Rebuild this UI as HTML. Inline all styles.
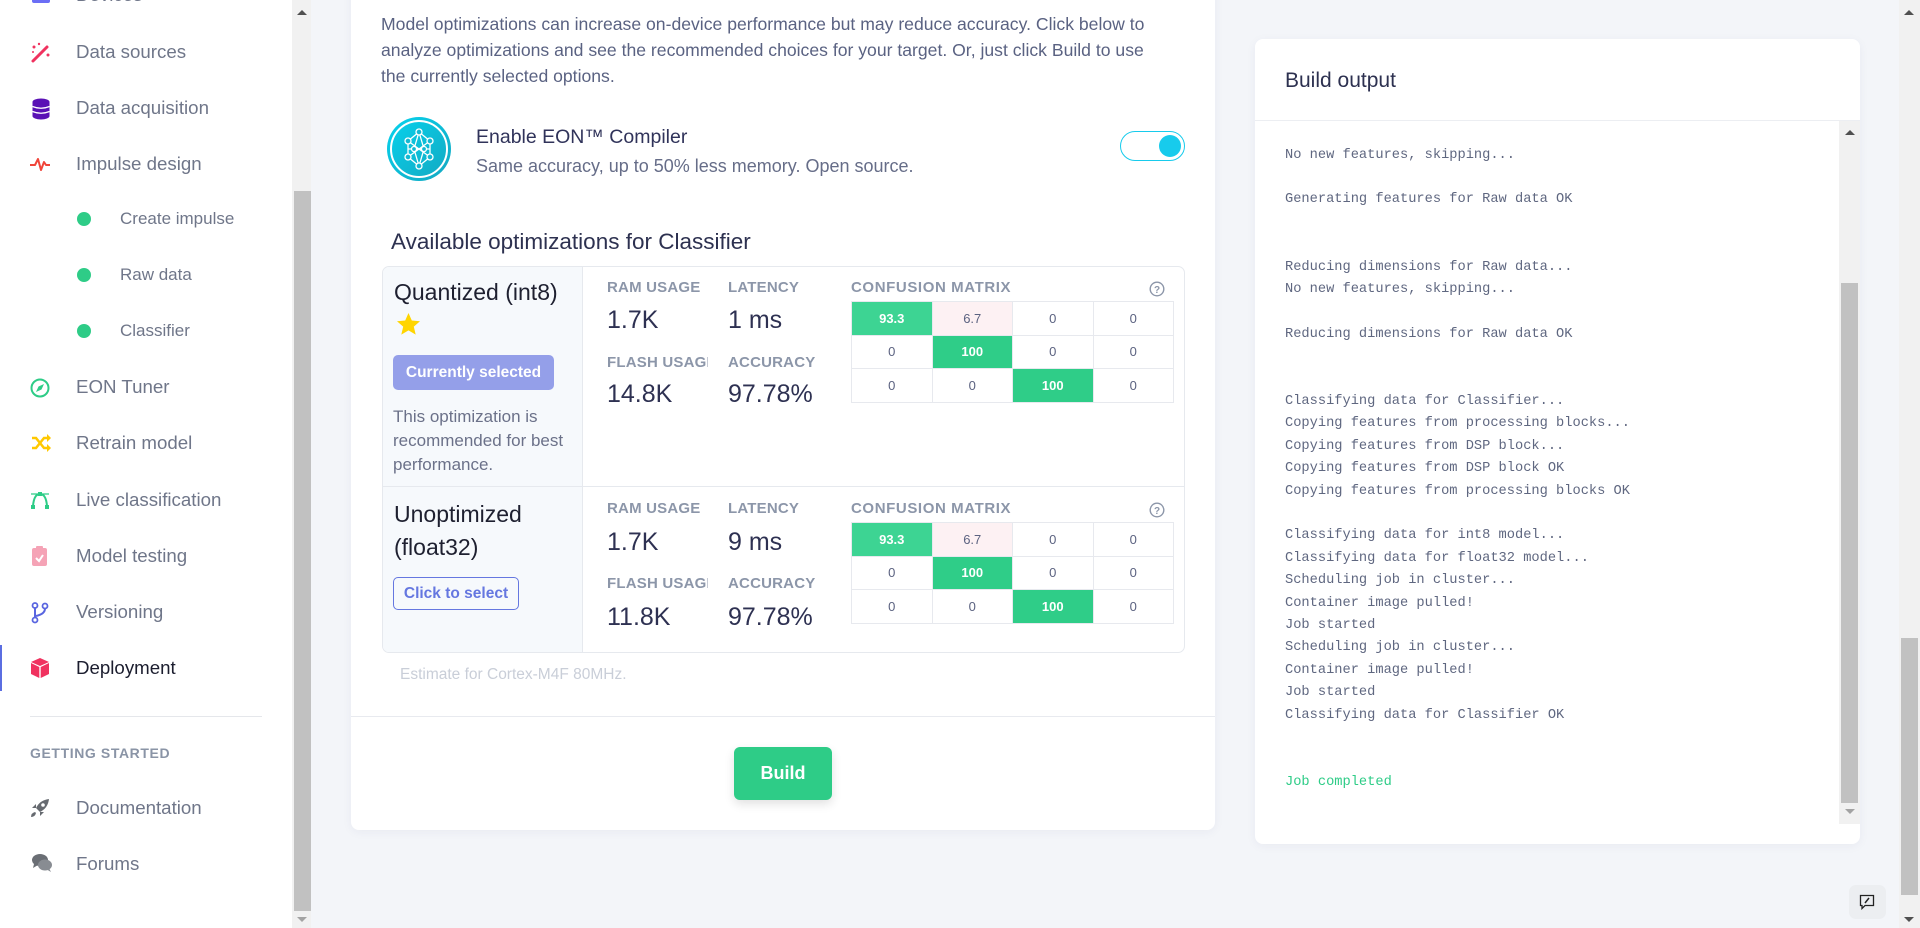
<!DOCTYPE html>
<html><head><meta charset="utf-8">
<style>
*{margin:0;padding:0;box-sizing:border-box}
html,body{width:1920px;height:928px;overflow:hidden}
body{position:relative;background:#f3f5f9;font-family:"Liberation Sans",sans-serif}
.a{position:absolute}
.t{position:absolute;white-space:nowrap}
.side{left:0;top:0;width:292px;height:928px;background:#fff}
.nav{font-size:18.7px;color:#6f7689;line-height:24px;left:76px}
.sub{font-size:17px;color:#6f7689;line-height:24px;left:120px}
.dot{position:absolute;left:77px;width:14px;height:14px;border-radius:50%;background:#2ecc87}
.lbl{font-size:15px;font-weight:bold;color:#8c96a9;line-height:18px;letter-spacing:0.2px}
.val{font-size:25px;color:#2e3152;line-height:30px}
.mx{position:absolute;border-collapse:collapse;font-size:13px;color:#5b6280}
.mx td{width:80.5px;height:33.6px;border:1px solid #e7e9ee;text-align:center;padding:0}
.g{background:#2fcd88;color:#fff;font-weight:bold}
.g2{background:#3dd493;color:#fff;font-weight:bold}
.p{background:#fdf1f3}
.log{font-family:"Liberation Mono","DejaVu Sans Mono",monospace;font-size:13.7px;color:#5f6780;line-height:22.4px;white-space:pre}
</style></head><body>

<!-- sidebar -->
<div class="a side"></div>
<div class="a" style="left:292px;top:0;width:19px;height:928px;background:#f1f1f1"></div>
<div class="a" style="left:294px;top:191px;width:17px;height:720px;background:#c1c1c1"></div>
<svg class="a" style="left:296px;top:8px" width="12" height="8"><polygon points="1,7 6,2 11,7" fill="#505050"/></svg>
<svg class="a" style="left:296px;top:916px" width="12" height="8"><polygon points="1,1 6,6 11,1" fill="#a3a3a3"/></svg>

<div class="a" style="left:32px;top:-8px;width:18px;height:11px;background:#6b6ef5;border-radius:2px"></div>
<div class="t nav" style="top:-17px">Devices</div>

<svg class="a" style="left:30px;top:42px" width="22" height="22"><line x1="3" y1="19" x2="17" y2="5" stroke="#f0325f" stroke-width="3" stroke-linecap="round"/><circle cx="4" cy="5" r="1.5" fill="#f0325f"/><circle cx="9" cy="2" r="1.2" fill="#f0325f"/><circle cx="18" cy="13" r="1.5" fill="#f0325f"/><circle cx="3" cy="10" r="1" fill="#f0325f"/></svg>
<div class="t nav" style="top:40px">Data sources</div>

<svg class="a" style="left:31px;top:98px" width="20" height="22"><ellipse cx="10" cy="4" rx="8.5" ry="3.5" fill="#5a11b5"/><rect x="1.5" y="4" width="17" height="14" fill="#5a11b5"/><ellipse cx="10" cy="18" rx="8.5" ry="3.5" fill="#5a11b5"/><path d="M1.5 8.5 Q10 12 18.5 8.5" stroke="#fff" stroke-width="1.3" fill="none"/><path d="M1.5 13.5 Q10 17 18.5 13.5" stroke="#fff" stroke-width="1.3" fill="none"/></svg>
<div class="t nav" style="top:96px">Data acquisition</div>

<svg class="a" style="left:29px;top:155px" width="22" height="18"><polyline points="1,10 6,10 9,4 12,15 15,7 17,10 21,10" stroke="#f0453a" stroke-width="2" fill="none" stroke-linejoin="round"/></svg>
<div class="t nav" style="top:152px">Impulse design</div>

<div class="dot" style="top:212px"></div>
<div class="t sub" style="top:207px">Create impulse</div>
<div class="dot" style="top:268px"></div>
<div class="t sub" style="top:263px">Raw data</div>
<div class="dot" style="top:324px"></div>
<div class="t sub" style="top:319px">Classifier</div>

<svg class="a" style="left:30px;top:378px" width="20" height="20"><circle cx="10" cy="10" r="8.5" stroke="#2ecc87" stroke-width="2" fill="none"/><polygon points="14,6 11.5,11.5 6,14 8.5,8.5" fill="#2ecc87"/></svg>
<div class="t nav" style="top:375px">EON Tuner</div>

<svg class="a" style="left:31px;top:434px" width="20" height="18"><path d="M1 4 H5 L13 14 H17" stroke="#ffc800" stroke-width="2.5" fill="none"/><path d="M1 14 H5 L13 4 H17" stroke="#ffc800" stroke-width="2.5" fill="none"/><polygon points="16,0 20,4 16,8" fill="#ffc800"/><polygon points="16,10 20,14 16,18" fill="#ffc800"/></svg>
<div class="t nav" style="top:431px">Retrain model</div>

<svg class="a" style="left:30px;top:491px" width="20" height="18"><path d="M3 15 Q4 3 10 3 Q16 3 17 15" stroke="#2ecc87" stroke-width="2" fill="none"/><rect x="1" y="14" width="4" height="4" fill="#2ecc87"/><rect x="15" y="14" width="4" height="4" fill="#2ecc87"/><rect x="8" y="1" width="4" height="4" fill="#2ecc87"/><line x1="1" y1="3" x2="19" y2="3" stroke="#2ecc87" stroke-width="1.3"/></svg>
<div class="t nav" style="top:488px">Live classification</div>

<svg class="a" style="left:32px;top:545px" width="16" height="22"><rect x="0" y="3" width="15" height="18" rx="2" fill="#f5a3b6"/><rect x="4" y="1" width="7" height="4" rx="1" fill="#f5a3b6"/><polyline points="4,13 7,16 11,10" stroke="#fff" stroke-width="2" fill="none"/></svg>
<div class="t nav" style="top:544px">Model testing</div>

<svg class="a" style="left:31px;top:602px" width="18" height="22"><circle cx="4" cy="3.5" r="2.5" stroke="#5965e0" stroke-width="1.8" fill="none"/><circle cx="4" cy="18" r="2.5" stroke="#5965e0" stroke-width="1.8" fill="none"/><circle cx="14" cy="4" r="2.5" stroke="#5965e0" stroke-width="1.8" fill="none"/><line x1="4" y1="6" x2="4" y2="15.5" stroke="#5965e0" stroke-width="2"/><path d="M14 6.5 Q14 12 5 14" stroke="#5965e0" stroke-width="2" fill="none"/></svg>
<div class="t nav" style="top:600px">Versioning</div>

<div class="a" style="left:0;top:645px;width:2px;height:46px;background:#5b6ee1"></div>
<svg class="a" style="left:31px;top:658px" width="18" height="20"><polygon points="9,0 18,4 9,8 0,4" fill="#f0325f"/><polygon points="0,5 8.3,9 8.3,20 0,16" fill="#f0325f"/><polygon points="9.7,9 18,5 18,16 9.7,20" fill="#f0325f"/></svg>
<div class="t nav" style="top:656px;color:#1b1d2e">Deployment</div>

<div class="a" style="left:30px;top:716px;width:232px;height:1px;background:#e5e7eb"></div>
<div class="t" style="left:30px;top:744px;font-size:14px;font-weight:bold;color:#8a94a6;letter-spacing:0.6px;line-height:18px">GETTING STARTED</div>

<svg class="a" style="left:30px;top:798px" width="20" height="20"><path d="M19 1 Q10 2 6 10 L10 14 Q18 10 19 1Z" fill="#666a70"/><circle cx="13" cy="7" r="1.8" fill="#fff"/><path d="M6 10 L2 10 L6 6 Z" fill="#666a70"/><path d="M10 14 L10 18 L14 14 Z" fill="#666a70"/><path d="M5 14 Q1 15 1 19 Q5 19 6 15Z" fill="#666a70"/></svg>
<div class="t nav" style="top:796px">Documentation</div>

<svg class="a" style="left:31px;top:853px" width="22" height="20"><ellipse cx="9" cy="7" rx="8" ry="6" fill="#6a6e74"/><path d="M3 11 L2 15 L7 12Z" fill="#6a6e74"/><ellipse cx="14" cy="12" rx="7" ry="5.5" fill="#888c92"/><path d="M18 15 L20 19 L15 16Z" fill="#888c92"/></svg>
<div class="t nav" style="top:852px">Forums</div>

<!-- main card -->
<div class="a" style="left:351px;top:-20px;width:864px;height:850px;background:#fff;border-radius:8px;box-shadow:0 2px 10px rgba(30,40,90,0.05)"></div>

<div class="t" style="left:381px;top:11px;font-size:17.6px;color:#5a6282;line-height:26px">Model optimizations can increase on-device performance but may reduce accuracy. Click below to<br>analyze optimizations and see the recommended choices for your target. Or, just click Build to use<br>the currently selected options.</div>

<svg class="a" style="left:386px;top:116px" width="66" height="66">
<defs><linearGradient id="eg" x1="0" y1="0" x2="1" y2="1"><stop offset="0" stop-color="#06d3ee"/><stop offset="1" stop-color="#14a7c0"/></linearGradient></defs>
<circle cx="33" cy="33" r="32" fill="url(#eg)"/>
<circle cx="33" cy="33" r="28" stroke="#fff" stroke-width="2" fill="none"/>
<g stroke="#fff" stroke-width="1.3" fill="none">
<line x1="33" y1="16" x2="22" y2="25"/><line x1="33" y1="16" x2="44" y2="25"/><line x1="22" y1="25" x2="22" y2="41"/><line x1="44" y1="25" x2="44" y2="41"/><line x1="22" y1="41" x2="33" y2="50"/><line x1="44" y1="41" x2="33" y2="50"/>
<line x1="33" y1="16" x2="28" y2="33"/><line x1="33" y1="16" x2="38" y2="33"/><line x1="33" y1="50" x2="28" y2="33"/><line x1="33" y1="50" x2="38" y2="33"/><line x1="22" y1="25" x2="44" y2="41"/><line x1="44" y1="25" x2="22" y2="41"/><line x1="22" y1="33" x2="44" y2="33"/>
<circle cx="33" cy="16" r="3" fill="#13b8d2"/><circle cx="22" cy="25" r="3" fill="#13b8d2"/><circle cx="44" cy="25" r="3" fill="#13b8d2"/><circle cx="22" cy="41" r="3" fill="#13b8d2"/><circle cx="44" cy="41" r="3" fill="#13b8d2"/><circle cx="33" cy="50" r="3" fill="#13b8d2"/><circle cx="28" cy="33" r="2.5" fill="#13b8d2"/><circle cx="38" cy="33" r="2.5" fill="#13b8d2"/>
</g></svg>
<div class="t" style="left:476px;top:124px;font-size:19.5px;color:#30335a;line-height:26px">Enable EON™ Compiler</div>
<div class="t" style="left:476px;top:153px;font-size:18px;color:#666d88;line-height:26px">Same accuracy, up to 50% less memory. Open source.</div>

<div class="a" style="left:1120px;top:131px;width:65px;height:30px;border:1.5px solid #17cbec;border-radius:15px;background:#fff"></div>
<div class="a" style="left:1159px;top:135px;width:22px;height:22px;border-radius:50%;background:#17cbec"></div>

<div class="t" style="left:391px;top:228px;font-size:22.5px;color:#2d3150;line-height:28px">Available optimizations for Classifier</div>

<!-- table -->
<div class="a" style="left:382px;top:266px;width:803px;height:387px;border:1px solid #e6e9ee;border-radius:7px;overflow:hidden">
  <div class="a" style="left:0;top:0;width:200px;height:387px;background:#f6f9fc;border-right:1px solid #e6e9ee"></div>
  <div class="a" style="left:0;top:219px;width:803px;height:1px;background:#e6e9ee"></div>
</div>

<!-- row 1 -->
<div class="t" style="left:394px;top:278px;font-size:23px;color:#1e2030;line-height:28px">Quantized (int8)</div>
<svg class="a" style="left:396px;top:312px" width="25" height="24"><polygon points="12.5,1 15.8,8.5 24,9.2 17.8,14.6 19.7,22.6 12.5,18.4 5.3,22.6 7.2,14.6 1,9.2 9.2,8.5" fill="#ffd500"/></svg>
<div class="a" style="left:393px;top:355px;width:161px;height:35px;border-radius:5px;background:#949fe9;color:#fff;font-size:15.5px;font-weight:bold;line-height:35px;text-align:center">Currently selected</div>
<div class="t" style="left:393px;top:405px;font-size:17px;color:#6b7189;line-height:24px">This optimization is<br>recommended for best<br>performance.</div>

<div class="t lbl" style="left:607px;top:279px">RAM USAGE</div>
<div class="t lbl" style="left:728px;top:279px">LATENCY</div>
<div class="t val" style="left:607px;top:305px">1.7K</div>
<div class="t val" style="left:728px;top:305px">1 ms</div>
<div class="t lbl" style="left:607px;top:354px;width:101px;overflow:hidden">FLASH USAGE</div>
<div class="t lbl" style="left:728px;top:354px">ACCURACY</div>
<div class="t val" style="left:607px;top:379px">14.8K</div>
<div class="t val" style="left:728px;top:379px">97.78%</div>

<div class="t lbl" style="left:851px;top:279px;letter-spacing:0.6px">CONFUSION MATRIX</div>
<svg class="a" style="left:1149px;top:281px" width="16" height="16"><circle cx="8" cy="8" r="6.8" stroke="#8c96a9" stroke-width="1.4" fill="none"/><text x="8" y="12" font-size="10" font-weight="bold" fill="#8c96a9" text-anchor="middle" font-family="Liberation Sans">?</text></svg>
<table class="mx" style="left:851px;top:301px">
<tr><td class="g2">93.3</td><td class="p">6.7</td><td>0</td><td>0</td></tr>
<tr><td>0</td><td class="g">100</td><td>0</td><td>0</td></tr>
<tr><td>0</td><td>0</td><td class="g">100</td><td>0</td></tr>
</table>

<!-- row 2 -->
<div class="t" style="left:394px;top:498px;font-size:23px;color:#1e2030;line-height:33px">Unoptimized<br>(float32)</div>
<div class="a" style="left:393px;top:577px;width:126px;height:33px;border-radius:5px;border:1px solid #6577e0;color:#6577e0;font-size:15.5px;font-weight:bold;line-height:31px;text-align:center">Click to select</div>

<div class="t lbl" style="left:607px;top:500px">RAM USAGE</div>
<div class="t lbl" style="left:728px;top:500px">LATENCY</div>
<div class="t val" style="left:607px;top:527px">1.7K</div>
<div class="t val" style="left:728px;top:527px">9 ms</div>
<div class="t lbl" style="left:607px;top:575px;width:101px;overflow:hidden">FLASH USAGE</div>
<div class="t lbl" style="left:728px;top:575px">ACCURACY</div>
<div class="t val" style="left:607px;top:602px">11.8K</div>
<div class="t val" style="left:728px;top:602px">97.78%</div>

<div class="t lbl" style="left:851px;top:500px;letter-spacing:0.6px">CONFUSION MATRIX</div>
<svg class="a" style="left:1149px;top:502px" width="16" height="16"><circle cx="8" cy="8" r="6.8" stroke="#8c96a9" stroke-width="1.4" fill="none"/><text x="8" y="12" font-size="10" font-weight="bold" fill="#8c96a9" text-anchor="middle" font-family="Liberation Sans">?</text></svg>
<table class="mx" style="left:851px;top:522px">
<tr><td class="g2">93.3</td><td class="p">6.7</td><td>0</td><td>0</td></tr>
<tr><td>0</td><td class="g">100</td><td>0</td><td>0</td></tr>
<tr><td>0</td><td>0</td><td class="g">100</td><td>0</td></tr>
</table>

<div class="t" style="left:400px;top:665px;font-size:15.5px;color:#c9ced8;line-height:20px">Estimate for Cortex-M4F 80MHz.</div>

<div class="a" style="left:351px;top:716px;width:864px;height:1px;background:#e8eaef"></div>
<div class="a" style="left:734px;top:747px;width:98px;height:53px;border-radius:6px;background:#2ecc87;color:#fff;font-size:18px;font-weight:bold;line-height:53px;text-align:center;box-shadow:0 4px 10px rgba(0,0,0,0.12)">Build</div>

<!-- right card -->
<div class="a" style="left:1255px;top:39px;width:605px;height:805px;background:#fff;border-radius:8px;box-shadow:0 2px 10px rgba(30,40,90,0.05)"></div>
<div class="t" style="left:1285px;top:67px;font-size:21px;color:#2d3150;line-height:28px">Build output</div>
<div class="a" style="left:1255px;top:120px;width:605px;height:1px;background:#eceef2"></div>
<div class="a" style="left:1839px;top:121px;width:21px;height:703px;background:#f1f1f1"></div>
<div class="a" style="left:1841px;top:283px;width:17px;height:520px;background:#c1c1c1"></div>
<svg class="a" style="left:1844px;top:128px" width="12" height="8"><polygon points="1,7 6,2 11,7" fill="#505050"/></svg>
<svg class="a" style="left:1844px;top:808px" width="12" height="8"><polygon points="1,1 6,6 11,1" fill="#a3a3a3"/></svg>

<div class="t log" style="left:1285px;top:144.5px">No new features, skipping...

Generating features for Raw data OK


Reducing dimensions for Raw data...
No new features, skipping...

Reducing dimensions for Raw data OK


Classifying data for Classifier...
Copying features from processing blocks...
Copying features from DSP block...
Copying features from DSP block OK
Copying features from processing blocks OK

Classifying data for int8 model...
Classifying data for float32 model...
Scheduling job in cluster...
Container image pulled!
Job started
Scheduling job in cluster...
Container image pulled!
Job started
Classifying data for Classifier OK


<span style="color:#2ecc87">Job completed</span></div>

<!-- page scrollbar -->
<div class="a" style="left:1899px;top:0;width:21px;height:928px;background:#f1f1f1"></div>
<div class="a" style="left:1901px;top:638px;width:17px;height:257px;background:#c1c1c1"></div>
<svg class="a" style="left:1903px;top:8px" width="12" height="8"><polygon points="1,7 6,2 11,7" fill="#505050"/></svg>
<svg class="a" style="left:1903px;top:916px" width="12" height="8"><polygon points="1,1 6,6 11,1" fill="#505050"/></svg>

<div class="a" style="left:1849px;top:885px;width:37px;height:34px;border-radius:7px;background:#eceef1"></div>
<svg class="a" style="left:1859px;top:894px" width="16" height="16"><path d="M1.5 1.5 H14.5 V11.5 H6 L3 14.5 V11.5 H1.5 Z" stroke="#222" stroke-width="1.3" fill="none"/><line x1="6" y1="9" x2="10" y2="4" stroke="#222" stroke-width="1.5"/></svg>

</body></html>
